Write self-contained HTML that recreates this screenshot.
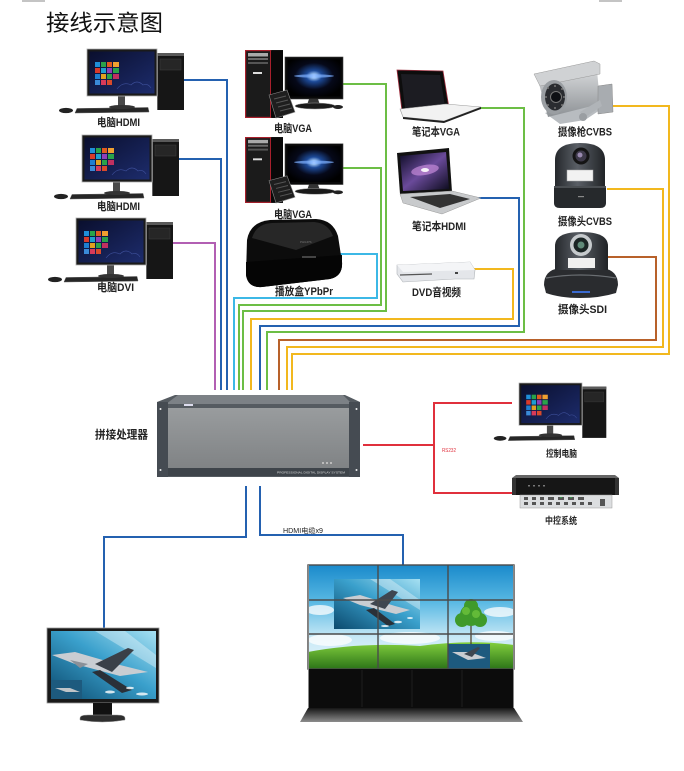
<!DOCTYPE html>
<html><head><meta charset="utf-8">
<style>
html,body{margin:0;padding:0;background:#fff;width:684px;height:771px;overflow:hidden}
svg{display:block}
.lb{font-family:"Liberation Sans","Noto Sans CJK SC",sans-serif;font-weight:bold;fill:#222;}
</style></head>
<body>
<svg width="684" height="771" viewBox="0 0 684 771" xmlns="http://www.w3.org/2000/svg">
<defs>
  <linearGradient id="navy" x1="0" y1="0" x2="1" y2="1">
    <stop offset="0" stop-color="#0a0f2e"/><stop offset="1" stop-color="#1d2c6c"/>
  </linearGradient>
  <radialGradient id="vglow" cx="0.5" cy="0.45" r="0.6">
    <stop offset="0" stop-color="#ffffff"/><stop offset="0.07" stop-color="#a8d0ff"/>
    <stop offset="0.25" stop-color="#1d4a98"/><stop offset="0.6" stop-color="#06091a"/><stop offset="1" stop-color="#000"/>
  </radialGradient>
  <linearGradient id="procPanel" x1="0" y1="0" x2="0" y2="1">
    <stop offset="0" stop-color="#999c9e"/><stop offset="1" stop-color="#808385"/>
  </linearGradient>
  <linearGradient id="sky" x1="0" y1="0" x2="0" y2="1">
    <stop offset="0" stop-color="#1a8acb"/><stop offset="0.35" stop-color="#58b8e3"/>
    <stop offset="0.7" stop-color="#c8e9f6"/><stop offset="1" stop-color="#e8f5fb"/>
  </linearGradient>
  <linearGradient id="grass" x1="0" y1="0" x2="0" y2="1">
    <stop offset="0" stop-color="#82cf3e"/><stop offset="1" stop-color="#2c7418"/>
  </linearGradient>
  <linearGradient id="foot" x1="0" y1="0" x2="0" y2="1">
    <stop offset="0" stop-color="#161616"/><stop offset="1" stop-color="#8c8c8c"/>
  </linearGradient>
  <linearGradient id="photo" x1="0" y1="1" x2="1" y2="0">
    <stop offset="0" stop-color="#0b4a6e"/><stop offset="0.55" stop-color="#3aa0cc"/><stop offset="1" stop-color="#a6e0f2"/>
  </linearGradient>
  <linearGradient id="metal" x1="0" y1="0" x2="0" y2="1">
    <stop offset="0" stop-color="#d6d8da"/><stop offset="1" stop-color="#8e9296"/>
  </linearGradient>
  <linearGradient id="dome" x1="0" y1="0" x2="1" y2="0">
    <stop offset="0" stop-color="#25282c"/><stop offset="0.45" stop-color="#5a5f66"/><stop offset="1" stop-color="#202326"/>
  </linearGradient>
  <linearGradient id="galaxy" x1="0" y1="0" x2="1" y2="1">
    <stop offset="0" stop-color="#0a0a20"/><stop offset="0.5" stop-color="#6a4a9a"/><stop offset="1" stop-color="#0a0a1a"/>
  </linearGradient>

  <g id="pc">
    <ellipse cx="-21" cy="61.5" rx="7" ry="2.6" fill="#222"/>
    <polygon points="-10,59.5 61,58.5 62,63 -12,64" fill="#262626" stroke="#5a5a5a" stroke-width="0.5"/>
    <rect x="31" y="46" width="7" height="11" fill="#4a4a4a"/>
    <ellipse cx="35" cy="58" rx="13" ry="2" fill="#333"/>
    <rect x="70" y="4" width="27" height="57" fill="#161616"/>
    <rect x="70" y="4" width="27" height="3" fill="#5a5a5a"/>
    <rect x="73" y="10" width="21" height="11" fill="#262626" stroke="#3c3c3c" stroke-width="0.5"/>
    <line x1="70.5" y1="4" x2="70.5" y2="61" stroke="#777" stroke-width="0.8"/>
    <rect x="0" y="0" width="70" height="47" fill="#1a1a1a" stroke="#b0b0b0" stroke-width="0.8"/>
    <rect x="2.5" y="2.5" width="65" height="42" fill="url(#navy)"/>
    <path d="M30,40 q6,-8 14,-4 q6,-6 12,0 q5,-2 8,3" fill="none" stroke="#3d4f9a" stroke-width="0.6"/>
    <rect x="8" y="13" width="5" height="5" fill="#1f8fd9"/>
    <rect x="14" y="13" width="5" height="5" fill="#2aa34a"/>
    <rect x="20" y="13" width="5" height="5" fill="#e05a1e"/>
    <rect x="26" y="13" width="6" height="5" fill="#f0a030"/>
    <rect x="8" y="19" width="5" height="5" fill="#d93a2a"/>
    <rect x="14" y="19" width="5" height="5" fill="#1e9fd0"/>
    <rect x="20" y="19" width="5" height="5" fill="#8e3fb8"/>
    <rect x="26" y="19" width="6" height="5" fill="#2aa34a"/>
    <rect x="8" y="25" width="5" height="5" fill="#1e7fd0"/>
    <rect x="14" y="25" width="5" height="5" fill="#e0a020"/>
    <rect x="20" y="25" width="5" height="5" fill="#2aa34a"/>
    <rect x="26" y="25" width="6" height="5" fill="#c03060"/>
    <rect x="8" y="31" width="5" height="5" fill="#3a8ad8"/>
    <rect x="14" y="31" width="5" height="5" fill="#d83a5a"/>
    <rect x="20" y="31" width="5" height="5" fill="#d84a2a"/>
  </g>

  <g id="vga">
    <rect x="40" y="7" width="58" height="42" fill="#0a0a0a" stroke="#444" stroke-width="0.6"/>
    <rect x="42.5" y="9.5" width="53" height="37" fill="url(#vglow)"/>
    <ellipse cx="69" cy="26" rx="20" ry="1.6" fill="#7fb0ff" opacity="0.7"/>
    <polygon points="64,49 73,49 75,55 62,55" fill="#333"/>
    <ellipse cx="70" cy="56" rx="20" ry="3" fill="#1a1a1a" stroke="#999" stroke-width="0.5"/>
    <ellipse cx="93" cy="57" rx="5" ry="2" fill="#222"/>
    <rect x="0" y="0" width="38" height="68" fill="#111"/>
    <rect x="0.6" y="0.6" width="25" height="66.8" fill="#1b1b1b" stroke="#a8202c" stroke-width="1.2"/>
    <rect x="3" y="3" width="20" height="3.5" fill="#aaa"/>
    <rect x="3" y="8" width="20" height="2" fill="#6a6a6a"/>
    <rect x="3" y="12" width="20" height="2" fill="#555"/>
    <rect x="8" y="22" width="9" height="2" fill="#ddd"/>
    <rect x="26" y="1" width="12" height="66" fill="#080808"/>
    <polygon points="24,45 42,40 50,62 31,68" fill="#1e1e1e" stroke="#8a8a8a" stroke-width="0.6"/>
    <path d="M29,49 l12,-3 M31,53 l12,-3 M33,57 l12,-3 M35,61 l12,-3" stroke="#555" stroke-width="1"/>
  </g>
</defs>

<!-- top gray bars -->
<rect x="22" y="0" width="23" height="2" fill="#c4c4c4"/>
<rect x="599" y="0" width="23" height="2" fill="#c4c4c4"/>

<!-- title -->
<text x="46" y="31" font-family="'Noto Sans CJK SC','WenQuanYi Zen Hei',sans-serif" font-size="22.5" fill="#111" textLength="117" lengthAdjust="spacingAndGlyphs">接线示意图</text>

<!-- wires -->
<g fill="none" stroke-width="2" stroke-linejoin="miter">
  <polyline points="184,80 227,80 227,390" stroke="#2461b0"/>
  <polyline points="178,159 221,159 221,390" stroke="#2461b0"/>
  <polyline points="172,243 215,243 215,390" stroke="#b25fb3"/>
  <polyline points="337,254 377,254 377,298 234,298 234,390" stroke="#3cb8e6"/>
  <polyline points="341,168 381,168 381,305 239,305 239,390" stroke="#6cbe45"/>
  <polyline points="343,84 386,84 386,311 243,311 243,390" stroke="#6cbe45"/>
  <polyline points="470,269 513,269 513,319 251,319 251,390" stroke="#f2b81e"/>
  <polyline points="475,198 519,198 519,326 260,326 260,390" stroke="#2461b0"/>
  <polyline points="480,108 524,108 524,332 267,332 267,390" stroke="#6cbe45"/>
  <polyline points="605,257 656,257 656,340 279,340 279,390" stroke="#b8612a"/>
  <polyline points="607,189 663,189 663,347 287,347 287,390" stroke="#f2b81e"/>
  <polyline points="611,106 669,106 669,354 292,354 292,390" stroke="#f2b81e"/>
  <polyline points="363,445 434,445" stroke="#e0303c"/>
  <polyline points="512,403 434,403 434,493 512,493" stroke="#e0303c"/>
  <polyline points="246,486 246,537 104,537 104,628" stroke="#2461b0"/>
  <polyline points="260,486 260,535 403,535 403,565" stroke="#2461b0"/>
</g>

<!-- left PCs -->
<use href="#pc" transform="translate(87,49)"/>
<use href="#pc" transform="translate(82,135)"/>
<use href="#pc" transform="translate(76,218)"/>
<use href="#pc" transform="translate(519,383) scale(0.9)"/>

<!-- VGA PCs -->
<use href="#vga" transform="translate(245,50)"/>
<use href="#vga" transform="translate(245,137) scale(1,0.97)"/>

<!-- player box -->
<path d="M247,240 Q250,222 270,220 L316,219 Q333,220 338,236 L342,262 Q343,276 330,279 L262,287 Q248,288 246,275 Z" fill="#0c0c0c"/>
<path d="M252,238 Q256,224 272,223 L314,222 Q328,223 333,236 L296,250 Z" fill="#2e2e2e" opacity="0.8"/>
<path d="M246,262 L342,255 L342,262 Q343,276 330,279 L262,287 Q248,288 246,275 Z" fill="#050505"/>
<rect x="302" y="256" width="14" height="2" fill="#444"/>
<text x="300" y="243" font-size="3" fill="#777" font-family="Liberation Sans,sans-serif">PHILIPS</text>

<!-- laptop VGA -->
<polygon points="397,70 443,71 449,108 402,111" fill="#0d0d0d" stroke="#a03040" stroke-width="0.8"/>
<polygon points="401,74 440,75 445,106 405,108" fill="#1c1c22"/>
<polygon points="400,109 446,104 481,107 444,121 403,117" fill="#f2f2f2" stroke="#999" stroke-width="0.6"/>
<polygon points="403,117 444,121 481,107 481,109 444,123 403,119" fill="#222"/>

<!-- laptop HDMI -->
<polygon points="397,153 449,148 452,192 400,194" fill="#111"/>
<polygon points="400,156 446,152 449,189 403,191" fill="url(#galaxy)"/>
<ellipse cx="425" cy="170" rx="14" ry="5" fill="#c48ad8" opacity="0.7" transform="rotate(-10 425 170)"/>
<ellipse cx="425" cy="170" rx="4" ry="2" fill="#fff" opacity="0.9"/>
<polygon points="400,194 452,191 481,198 442,214 403,203" fill="#c8cacc" stroke="#999" stroke-width="0.5"/>
<polygon points="410,197 450,194 470,199 440,208" fill="#333"/>

<!-- DVD -->
<polygon points="397,265 470,262 475,270 474,279 455,279 403,282 397,274" fill="#e4e6ea" stroke="#b0b4b8" stroke-width="0.6"/>
<polygon points="397,265 470,262 475,270 403,272" fill="#f4f5f7"/>
<line x1="400" y1="275" x2="432" y2="274" stroke="#555" stroke-width="1.2"/>
<rect x="455" y="272" width="3" height="2" fill="#444"/>

<!-- bullet camera -->
<polygon points="545,113 596,98 600,110 585,120 560,124" fill="#b8bcc0"/>
<polygon points="538,80 597,70 600,104 548,117" fill="url(#metal)"/>
<polygon points="534,74 594,61 600,64 600,74 540,86" fill="#d0d2d4" stroke="#999" stroke-width="0.5"/>
<ellipse cx="554" cy="97" rx="13" ry="17" fill="#9a9ea2"/>
<ellipse cx="555" cy="97" rx="10" ry="13.5" fill="#2a2c30"/>
<circle cx="556" cy="97" r="5.5" fill="#0e1014" stroke="#777" stroke-width="1"/>
<g fill="#777"><circle cx="548" cy="88" r="1"/><circle cx="555" cy="86" r="1"/><circle cx="562" cy="89" r="1"/><circle cx="564" cy="97" r="1"/><circle cx="562" cy="105" r="1"/><circle cx="555" cy="108" r="1"/><circle cx="548" cy="105" r="1"/><circle cx="546" cy="97" r="1"/></g>
<polygon points="598,86 612,84 613,112 598,114" fill="#a8acb0" stroke="#888" stroke-width="0.5"/>
<polygon points="580,112 600,100 602,106 584,118" fill="#b0b4b8"/>
<circle cx="583" cy="117" r="4" fill="#9a9ea2"/>

<!-- PTZ CVBS -->
<path d="M555,189 L555,160 Q555,143 580,143 Q605,143 605,160 L605,189 Z" fill="url(#dome)"/>
<circle cx="581" cy="156" r="8.5" fill="#141414"/>
<circle cx="581" cy="156" r="5.5" fill="#3e3a4a"/>
<circle cx="580" cy="155" r="2.5" fill="#9a8ab0"/>
<rect x="567" y="170" width="26" height="11" fill="#f2f2f2" stroke="#aaa" stroke-width="0.5"/>
<path d="M554,186 L606,186 L606,203 Q606,208 600,208 L560,208 Q554,208 554,203 Z" fill="#26292c"/>
<rect x="554" y="186" width="52" height="2" fill="#4a4e52"/>
<rect x="578" y="196" width="6" height="1.2" fill="#888"/>

<!-- PTZ SDI -->
<path d="M544,285 Q544,270 560,268 L602,268 Q618,270 618,285 L616,293 Q600,298 580,298 Q560,298 546,293 Z" fill="#2a2c2f"/>
<path d="M546,278 Q580,272 616,278" fill="none" stroke="#6a6e72" stroke-width="1.2"/>
<rect x="572" y="291" width="18" height="2" fill="#3a6ad0"/>
<path d="M555,270 L555,246 Q555,232 581,232 Q608,232 608,246 L608,270 Z" fill="url(#dome)"/>
<circle cx="581" cy="245" r="11" fill="#c6cacd"/>
<circle cx="581" cy="245" r="7.5" fill="#1a2424"/>
<circle cx="581" cy="245" r="3.5" fill="#5f8a78"/>
<rect x="568" y="258" width="27" height="10" fill="#f0f0f0"/>

<!-- processor -->
<polygon points="175,395 345,395 360,402 360,477 157,477 157,402" fill="#555b61"/>
<polygon points="178,395 343,395 352,404 166,404" fill="#7c8186"/>
<rect x="157" y="402" width="11" height="75" fill="#454b52"/>
<rect x="349" y="402" width="11" height="75" fill="#454b52"/>
<rect x="168" y="408" width="181" height="60" fill="url(#procPanel)"/>
<rect x="168" y="468" width="181" height="8" fill="#3e444a"/>
<rect x="184" y="404" width="9" height="2" fill="#dde"/>
<g fill="#eee"><circle cx="160.5" cy="409" r="1"/><circle cx="160.5" cy="470" r="1"/><circle cx="356.5" cy="409" r="1"/><circle cx="356.5" cy="470" r="1"/></g>
<g fill="#bbb"><rect x="322" y="462" width="2" height="2"/><rect x="326" y="462" width="2" height="2"/><rect x="330" y="462" width="2" height="2"/></g>
<text x="277" y="473.5" font-size="3" fill="#ddd" font-family="Liberation Sans,sans-serif" textLength="68" lengthAdjust="spacingAndGlyphs">PROFESSIONAL DIGITAL DISPLAY SYSTEM</text>

<!-- central control -->
<polygon points="516,475 615,475 619,478 512,478" fill="#666"/>
<rect x="512" y="478" width="107" height="17" fill="#161616"/>
<rect x="512" y="478" width="4" height="17" fill="#333"/>
<rect x="615" y="478" width="4" height="17" fill="#333"/>
<g fill="#777"><rect x="528" y="485" width="2" height="1.5"/><rect x="533" y="485" width="2" height="1.5"/><rect x="538" y="485" width="2" height="1.5"/><rect x="543" y="485" width="2" height="1.5"/></g>
<rect x="520" y="495" width="92" height="13" fill="#dcdee0" stroke="#9a9a9a" stroke-width="0.5"/>
<g fill="#555"><rect x="524" y="497" width="4" height="3"/><rect x="532" y="497" width="4" height="3"/><rect x="540" y="497" width="4" height="3"/><rect x="548" y="497" width="6" height="3"/><rect x="558" y="497" width="6" height="3"/><rect x="568" y="497" width="6" height="3"/><rect x="578" y="497" width="6" height="3"/>
<rect x="524" y="502" width="4" height="3"/><rect x="532" y="502" width="4" height="3"/><rect x="540" y="502" width="4" height="3"/><rect x="548" y="502" width="4" height="3"/><rect x="556" y="502" width="4" height="3"/><rect x="564" y="502" width="4" height="3"/><rect x="572" y="502" width="4" height="3"/><rect x="580" y="502" width="4" height="3"/><rect x="588" y="502" width="4" height="3"/><rect x="600" y="499" width="5" height="7"/></g>
<g fill="#3a9a4a"><rect x="560" y="497" width="2" height="1"/><rect x="570" y="497" width="2" height="1"/></g>

<!-- bottom-left monitor -->
<rect x="47" y="628" width="112" height="75" fill="#1a1a1a" stroke="#9a9a9a" stroke-width="0.8"/>
<rect x="51" y="631" width="105" height="68" fill="url(#photo)"/>
<polygon points="95,631 125,631 156,655 156,668" fill="#ffffff" opacity="0.35"/>
<polygon points="52,655 75,652 120,665 148,672 120,676 75,664" fill="#c9cdd2"/>
<polygon points="95,664 128,648 134,650 112,672" fill="#3a4048"/>
<polygon points="100,670 132,690 122,693 92,672" fill="#2a3038"/>
<polygon points="70,660 88,664 80,668" fill="#8a9098"/>
<rect x="51" y="680" width="31" height="19" fill="#1d5a7e"/>
<polygon points="55,688 70,688 80,692 66,692" fill="#c0c4c8"/>
<g fill="#fff" opacity="0.8"><ellipse cx="110" cy="692" rx="5" ry="1.5"/><ellipse cx="130" cy="688" rx="4" ry="1.2"/><ellipse cx="142" cy="694" rx="6" ry="1.5"/></g>
<rect x="93" y="703" width="19" height="13" fill="#111"/>
<path d="M80,718 Q80,715 88,715 L117,715 Q125,715 125,718 L125,720 Q102,724 80,720 Z" fill="#2e2e2e" stroke="#999" stroke-width="0.5"/>

<!-- video wall -->
<rect x="308" y="565" width="206" height="104" fill="url(#sky)"/>
<g fill="#ffffff" opacity="0.75"><ellipse cx="330" cy="640" rx="22" ry="6"/><ellipse cx="410" cy="638" rx="30" ry="6"/><ellipse cx="495" cy="636" rx="20" ry="5"/><ellipse cx="320" cy="610" rx="14" ry="5"/><ellipse cx="500" cy="612" rx="16" ry="5"/></g>
<path d="M308,652 Q360,642 420,646 Q470,639 514,645 L514,669 L308,669 Z" fill="url(#grass)"/>
<rect x="334" y="579" width="86" height="50" fill="url(#photo)"/>
<polygon points="370,579 390,579 420,600 420,610" fill="#fff" opacity="0.35"/>
<polygon points="343,598 360,595 395,606 410,610 396,614 360,605" fill="#c9cdd2"/>
<polygon points="370,604 392,590 398,592 385,609" fill="#3e4650"/>
<polygon points="374,608 395,624 388,626 366,610" fill="#2a3038"/>
<g fill="#fff" opacity="0.8"><ellipse cx="398" cy="622" rx="4" ry="1.2"/><ellipse cx="410" cy="618" rx="3" ry="1"/><ellipse cx="385" cy="626" rx="4" ry="1"/></g>
<line x1="471" y1="622" x2="471" y2="646" stroke="#4a3a22" stroke-width="1.2"/>
<g fill="#3f9a2a"><circle cx="471" cy="615" r="11"/><circle cx="462" cy="620" r="7"/><circle cx="480" cy="620" r="7"/><circle cx="471" cy="606" r="7"/></g>
<g fill="#6cc23c" opacity="0.8"><circle cx="466" cy="611" r="4"/><circle cx="476" cy="614" r="4"/></g>
<rect x="448" y="644" width="42" height="25" fill="#1d5a7e"/>
<polygon points="452,652 470,652 486,658 468,660" fill="#c9cdd2"/>
<polygon points="464,654 478,647 480,648 472,657" fill="#3e4650"/>
<g stroke="#4a4a4a" stroke-width="1.4" fill="none">
  <line x1="378" y1="565" x2="378" y2="669"/>
  <line x1="448" y1="565" x2="448" y2="669"/>
  <line x1="308" y1="600" x2="514" y2="600"/>
  <line x1="308" y1="634" x2="514" y2="634"/>
  <rect x="308" y="565" width="206" height="104"/>
</g>
<rect x="308" y="669" width="206" height="39" fill="#0c0c0c"/>
<g stroke="#1e1e1e" stroke-width="1"><line x1="362" y1="670" x2="362" y2="707"/><line x1="412" y1="670" x2="412" y2="707"/><line x1="462" y1="670" x2="462" y2="707"/></g>
<line x1="308.5" y1="565" x2="308.5" y2="708" stroke="#888" stroke-width="1"/>
<line x1="513.5" y1="565" x2="513.5" y2="708" stroke="#888" stroke-width="1"/>
<polygon points="308,708 514,708 523,722 300,722" fill="url(#foot)"/>

<!-- labels -->
<g class="lb" font-size="11" text-anchor="middle">
  <text x="118.5" y="126" textLength="43" lengthAdjust="spacingAndGlyphs">电脑HDMI</text>
  <text x="118.5" y="210" textLength="43" lengthAdjust="spacingAndGlyphs">电脑HDMI</text>
  <text x="115.5" y="291" textLength="37" lengthAdjust="spacingAndGlyphs">电脑DVI</text>
  <text x="293" y="132" textLength="38" lengthAdjust="spacingAndGlyphs">电脑VGA</text>
  <text x="293" y="218" textLength="38" lengthAdjust="spacingAndGlyphs">电脑VGA</text>
  <text x="304" y="295" textLength="58" lengthAdjust="spacingAndGlyphs">播放盒YPbPr</text>
  <text x="436" y="135.5" textLength="48" lengthAdjust="spacingAndGlyphs">笔记本VGA</text>
  <text x="439" y="230" textLength="54" lengthAdjust="spacingAndGlyphs">笔记本HDMI</text>
  <text x="436.5" y="296" textLength="49" lengthAdjust="spacingAndGlyphs">DVD音视频</text>
  <text x="585" y="135.5" textLength="54" lengthAdjust="spacingAndGlyphs">摄像枪CVBS</text>
  <text x="585" y="225" textLength="54" lengthAdjust="spacingAndGlyphs">摄像头CVBS</text>
  <text x="582.5" y="313" textLength="49" lengthAdjust="spacingAndGlyphs">摄像头SDI</text>
  <text x="121.5" y="438.5" font-size="11.5" textLength="53" lengthAdjust="spacingAndGlyphs">拼接处理器</text>
  <text x="561.5" y="457" font-size="9.5" textLength="31" lengthAdjust="spacingAndGlyphs">控制电脑</text>
  <text x="561" y="524" font-size="9.5" textLength="32" lengthAdjust="spacingAndGlyphs">中控系统</text>
</g>
<text x="283" y="533" font-size="7" fill="#222" font-family="'Liberation Sans','Noto Sans CJK SC',sans-serif" textLength="40" lengthAdjust="spacingAndGlyphs">HDMI电缆x9</text>
<text x="442" y="452" font-size="5" fill="#e0303c" font-family="'Liberation Sans',sans-serif" textLength="14" lengthAdjust="spacingAndGlyphs">RS232</text>
</svg>
</body></html>
